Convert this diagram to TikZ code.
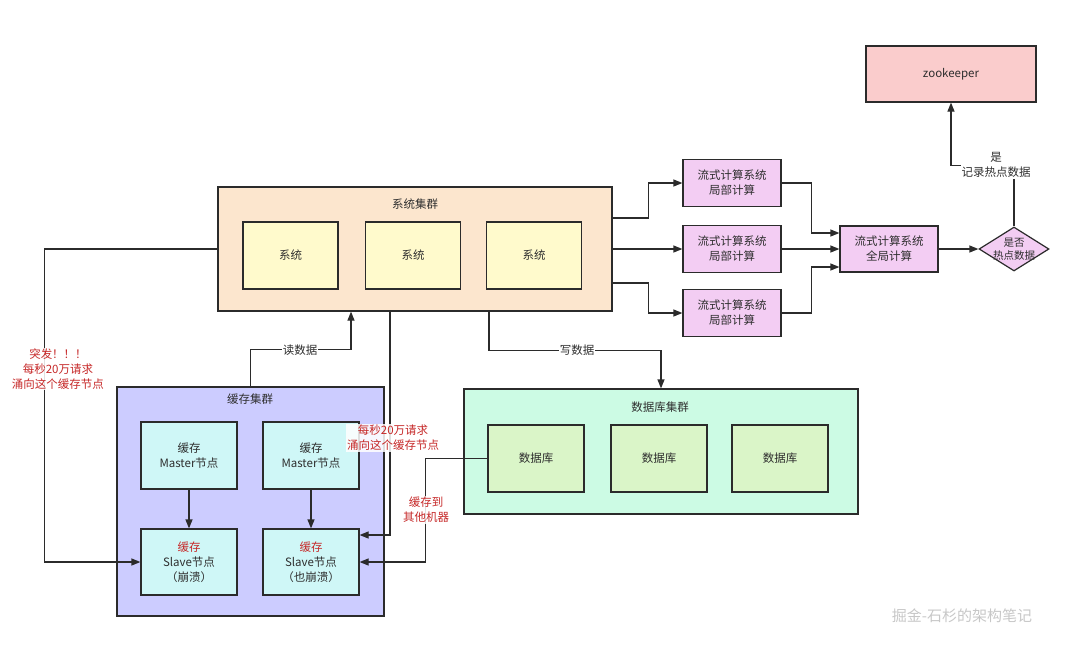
\documentclass[tikz,border=0pt]{standalone}
\usepackage{fontspec}
\setmainfont{Noto Sans CJK SC}
\usetikzlibrary{arrows.meta,shapes.geometric}
\definecolor{lc}{HTML}{2B2B2B}
\definecolor{tc}{HTML}{2E2E2E}
\definecolor{rc}{HTML}{C62828}
\definecolor{sysbg}{HTML}{FCE6CE}
\definecolor{sysin}{HTML}{FFFACC}
\definecolor{strbg}{HTML}{F3CDF3}
\definecolor{zoobg}{HTML}{FACCCC}
\definecolor{cachebg}{HTML}{CCCCFF}
\definecolor{cachein}{HTML}{CFF7F7}
\definecolor{dbbg}{HTML}{CCFBE4}
\definecolor{dbin}{HTML}{DAF5C8}
\begin{document}
\begin{tikzpicture}[x=1pt,y=-1pt,
  font=\fontsize{11.5}{15}\selectfont, text=tc,
  boxa/.style={draw=lc, line width=1.2pt, inner sep=0pt, align=center},
  arr/.style={draw=lc, line width=1.2pt, -{Triangle[length=9pt,width=7pt]}},
  lab/.style={fill=white, inner sep=1pt, align=center},
  rlab/.style={fill=white, fill opacity=0.85, text opacity=1, text=rc, inner sep=1pt, align=center}
]
\useasboundingbox (0,0) rectangle (1080,646);

% system cluster
\node[boxa, fill=sysbg, minimum width=394pt, minimum height=124pt] (syscl) at (415,249) {};
\node (systitle) at (415,204) {系统集群};
\node[boxa, fill=sysin, minimum width=95pt, minimum height=67pt] (sys1) at (290.5,255.5) {系统};
\node[boxa, fill=sysin, minimum width=95pt, minimum height=67pt] (sys2) at (413,255.5) {系统};
\node[boxa, fill=sysin, minimum width=95pt, minimum height=67pt] (sys3) at (534,255.5) {系统};

% stream
\node[boxa, fill=strbg, minimum width=98pt, minimum height=47pt] (l1) at (732,183) {流式计算系统\\局部计算};
\node[boxa, fill=strbg, minimum width=98pt, minimum height=47pt] (l2) at (732,249) {流式计算系统\\局部计算};
\node[boxa, fill=strbg, minimum width=98pt, minimum height=47pt] (l3) at (732,313) {流式计算系统\\局部计算};
\node[boxa, fill=strbg, minimum width=98pt, minimum height=46pt] (glob) at (889,249) {流式计算系统\\全局计算};
\node[boxa, fill=strbg, shape=diamond, minimum width=70pt, minimum height=44pt] (dia) at (1014,249) {};
\node[align=center, font=\fontsize{10.5}{13}\selectfont] (diatext) at (1014,249) {是否\\热点数据};
\node[boxa, fill=zoobg, minimum width=170pt, minimum height=56pt] (zoo) at (951,74) {zookeeper};

% cache cluster
\node[boxa, fill=cachebg, minimum width=267pt, minimum height=229pt] (cachecl) at (250.5,501.5) {};
\node (cachetitle) at (250,399) {缓存集群};
\node[boxa, fill=cachein, minimum width=96pt, minimum height=67pt] (m1) at (189,455.5) {缓存\\Master节点};
\node[boxa, fill=cachein, minimum width=96pt, minimum height=67pt] (m2) at (311,455.5) {缓存\\Master节点};
\node[boxa, fill=cachein, minimum width=96pt, minimum height=66pt] (s1) at (189,562) {{\color{rc}缓存}\\Slave节点\\（崩溃）};
\node[boxa, fill=cachein, minimum width=96pt, minimum height=66pt] (s2) at (311,562) {{\color{rc}缓存}\\Slave节点\\（也崩溃）};

% db cluster
\node[boxa, fill=dbbg, minimum width=394pt, minimum height=125pt] (dbcl) at (661,451.5) {};
\node (dbtitle) at (660,407) {数据库集群};
\node[boxa, fill=dbin, minimum width=96pt, minimum height=67pt] (d1) at (536,458.5) {数据库};
\node[boxa, fill=dbin, minimum width=96pt, minimum height=67pt] (d2) at (659,458.5) {数据库};
\node[boxa, fill=dbin, minimum width=96pt, minimum height=67pt] (d3) at (780,458.5) {数据库};

% connectors: system -> stream
\draw[arr] ([yshift=31pt]syscl.east) -- ++(36,0) |- (l1.west);
\draw[arr] (syscl.east) -- (l2.west);
\draw[arr] ([yshift=-34pt]syscl.east) -- ++(36,0) |- (l3.west);
\draw[arr] (l1.east) -- ++(30,0) |- ([yshift=16pt]glob.west);
\draw[arr] (l2.east) -- (glob.west);
\draw[arr] (l3.east) -- ++(30,0) |- ([yshift=-18pt]glob.west);
\draw[arr] (glob.east) -- (dia.west);
\draw[arr] (dia.north) -- ++(0,-61) -| (zoo.south);
\node[lab] (yeslab) at (996,165) {是\\记录热点数据};

% master -> slave
\draw[arr] (m1.south) -- (s1.north);
\draw[arr] (m2.south) -- (s2.north);

% left burst
\draw[arr] (syscl.west) -- ++(-173,0) |- (s1.west);
\node[rlab] (burst) at (58,369) {突发！！！\\每秒20万请求\\涌向这个缓存节点};

% read data
\draw[arr] (cachecl.north) -- ++(0,-37) -| ([xshift=-64pt]syscl.south);
\node[lab] (readlab) at (300,350) {读数据};

% burst to slave2
\draw[arr] ([xshift=-25pt]syscl.south) |- ([yshift=27pt]s2.east);
\node[rlab] (burst2) at (393,438) {每秒20万请求\\涌向这个缓存节点};

% write data
\draw[arr] ([xshift=74pt]syscl.south) -- ++(0,39) -| (dbcl.north);
\node[lab] (writelab) at (577,350) {写数据};

% cache to other machines
\draw[arr] (d1.west) -- ++(-62,0) |- (s2.east);
\node[rlab] (othlab) at (426,510) {缓存到\\其他机器};

% watermark
\node[text=black!22, font=\fontsize{15}{17}\selectfont] (wm) at (962,616) {掘金-石杉的架构笔记};
\end{tikzpicture}
\end{document}
